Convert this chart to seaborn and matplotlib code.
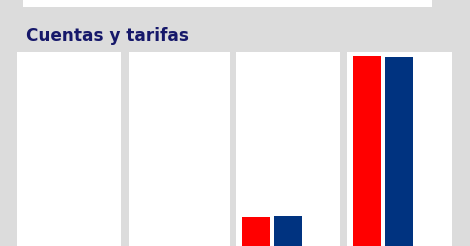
import matplotlib
matplotlib.use("Agg")
import matplotlib.pyplot as plt
import seaborn as sns
import pandas as pd
from matplotlib.patches import Rectangle

# Data
panels = ["P1", "P2", "P3", "P4"]
series = ["Serie A", "Serie B"]
red_values = [0, 0, 29, 190]
blue_values = [0, 0, 30, 189]
title = "Cuentas y tarifas"

sns.set_theme(style="white")
plt.rcParams['font.family'] = ['DejaVu Sans']

W, H = 470, 246
fig = plt.figure(figsize=(W / 100, H / 100), dpi=100)
bg = "#dcdcdc"
fig.patch.set_facecolor(bg)

# top white strip
fig.patches.append(Rectangle((23 / W, 1 - 7 / H), (432 - 23) / W, 7 / H,
                             transform=fig.transFigure, facecolor="white",
                             edgecolor="none", zorder=0))

fig.text(26 / W, 1 - 41 / H, title, fontsize=12.2, fontweight="bold",
         color="#16186a", va="baseline", ha="left")

panel_x = [(17, 121), (129, 230), (236, 340), (347, 452)]
top_px = 52
palette = {"Serie A": "#ff0000", "Serie B": "#003380"}

for i, p in enumerate(panels):
    x0, x1 = panel_x[i]
    ax = fig.add_axes([x0 / W, 0, (x1 - x0) / W, (H - top_px) / H])
    ax.set_facecolor("white")
    df = pd.DataFrame({"serie": series, "valor": [red_values[i], blue_values[i]]})
    sns.barplot(data=df, x="serie", y="valor", hue="serie", palette=palette,
                width=0.86, linewidth=0, saturation=1, legend=False, ax=ax)
    pw = x1 - x0
    left = -20 / 32
    ax.set_xlim(left, left + pw / 32)
    ax.set_ylim(0, H - top_px)
    ax.set_xticks([])
    ax.set_yticks([])
    ax.set_xlabel("")
    ax.set_ylabel("")
    for s in ax.spines.values():
        s.set_visible(False)

fig.savefig("out.png", dpi=100, facecolor=bg)
